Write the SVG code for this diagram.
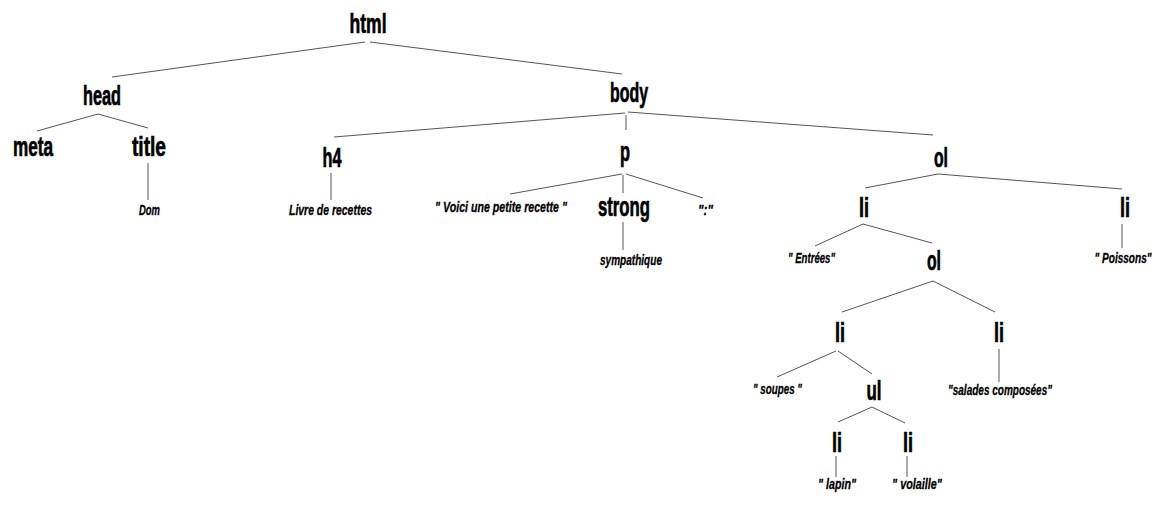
<svg xmlns="http://www.w3.org/2000/svg" width="1172" height="509" viewBox="0 0 1172 509">
<style>
.tag{font-family:"Liberation Sans",Arial,sans-serif;font-weight:bold;font-size:27px;text-anchor:middle;fill:#000;stroke:#000;stroke-width:0.7px}
.lbl{font-family:"Liberation Sans",Arial,sans-serif;font-weight:bold;font-style:italic;font-size:15px;text-anchor:middle;fill:#000;stroke:#000;stroke-width:0.3px}
#connectors line{stroke:#555;stroke-width:1}
</style>
<rect width="1172" height="509" fill="#fff"/>
<g id="connectors">
<line x1="365" y1="42" x2="112" y2="77"/>
<line x1="370" y1="42" x2="622" y2="74"/>
<line x1="98" y1="114" x2="37" y2="131"/>
<line x1="98" y1="114" x2="148" y2="128"/>
<line x1="148" y1="163" x2="148" y2="200"/>
<line x1="625" y1="113" x2="334" y2="137"/>
<line x1="626" y1="115" x2="626" y2="130"/>
<line x1="628" y1="112" x2="933" y2="135"/>
<line x1="331" y1="173" x2="331" y2="200"/>
<line x1="622" y1="174" x2="510" y2="194"/>
<line x1="623" y1="175" x2="623" y2="193"/>
<line x1="626" y1="174" x2="703" y2="198"/>
<line x1="623" y1="222" x2="623" y2="250"/>
<line x1="938" y1="174" x2="865" y2="188"/>
<line x1="938" y1="174" x2="1122" y2="189"/>
<line x1="863" y1="224" x2="815" y2="246"/>
<line x1="863" y1="224" x2="932" y2="243"/>
<line x1="1122" y1="224" x2="1122" y2="248"/>
<line x1="933" y1="281" x2="842" y2="312"/>
<line x1="933" y1="281" x2="995" y2="312"/>
<line x1="836" y1="351" x2="777" y2="377"/>
<line x1="838" y1="351" x2="872" y2="374"/>
<line x1="999" y1="349" x2="999" y2="382"/>
<line x1="872" y1="407" x2="838" y2="422"/>
<line x1="872" y1="407" x2="905" y2="423"/>
<line x1="836" y1="456" x2="836" y2="477"/>
<line x1="907" y1="456" x2="907" y2="477"/>
</g>
<g id="n-html"><text class="tag" x="368" y="33" textLength="37" lengthAdjust="spacingAndGlyphs">html</text></g>
<g id="n-head"><text class="tag" x="102" y="105" textLength="38" lengthAdjust="spacingAndGlyphs">head</text></g>
<g id="n-body"><text class="tag" x="629" y="102" textLength="38" lengthAdjust="spacingAndGlyphs">body</text></g>
<g id="n-meta"><text class="tag" x="33" y="156" textLength="40" lengthAdjust="spacingAndGlyphs">meta</text></g>
<g id="n-title"><text class="tag" x="149" y="156" textLength="34" lengthAdjust="spacingAndGlyphs">title</text></g>
<g id="t-dom"><text class="lbl" x="149.5" y="215" textLength="21" lengthAdjust="spacingAndGlyphs">Dom</text></g>
<g id="n-h4"><text class="tag" x="332" y="167" textLength="19" lengthAdjust="spacingAndGlyphs">h4</text></g>
<g id="t-livre"><text class="lbl" x="330.5" y="215" textLength="83" lengthAdjust="spacingAndGlyphs">Livre de recettes</text></g>
<g id="n-p"><text class="tag" x="625" y="161" textLength="10" lengthAdjust="spacingAndGlyphs">p</text></g>
<g id="t-voici"><text class="lbl" x="501" y="212" textLength="132" lengthAdjust="spacingAndGlyphs">" Voici une petite recette "</text></g>
<g id="n-strong"><text class="tag" x="624" y="215.5" textLength="52" lengthAdjust="spacingAndGlyphs">strong</text></g>
<g id="t-sympathique"><text class="lbl" x="631" y="265" textLength="62" lengthAdjust="spacingAndGlyphs">sympathique</text></g>
<g id="t-colon"><text class="lbl" x="705.5" y="215" textLength="15" lengthAdjust="spacingAndGlyphs">":"</text></g>
<g id="n-ol1"><text class="tag" x="941" y="167" textLength="14" lengthAdjust="spacingAndGlyphs">ol</text></g>
<g id="n-li1"><text class="tag" x="864" y="217" textLength="10" lengthAdjust="spacingAndGlyphs">li</text></g>
<g id="n-li2"><text class="tag" x="1125" y="217" textLength="10" lengthAdjust="spacingAndGlyphs">li</text></g>
<g id="t-entrees"><text class="lbl" x="811.5" y="263" textLength="47" lengthAdjust="spacingAndGlyphs">" Entrées"</text></g>
<g id="t-poissons"><text class="lbl" x="1123" y="263" textLength="57" lengthAdjust="spacingAndGlyphs">" Poissons"</text></g>
<g id="n-ol2"><text class="tag" x="934" y="270" textLength="14" lengthAdjust="spacingAndGlyphs">ol</text></g>
<g id="n-li3"><text class="tag" x="840" y="342" textLength="10" lengthAdjust="spacingAndGlyphs">li</text></g>
<g id="n-li4"><text class="tag" x="999" y="342" textLength="10" lengthAdjust="spacingAndGlyphs">li</text></g>
<g id="t-soupes"><text class="lbl" x="777.5" y="394" textLength="49" lengthAdjust="spacingAndGlyphs">" soupes "</text></g>
<g id="n-ul"><text class="tag" x="874" y="400" textLength="15" lengthAdjust="spacingAndGlyphs">ul</text></g>
<g id="t-salades"><text class="lbl" x="1000" y="395" textLength="104" lengthAdjust="spacingAndGlyphs">"salades composées"</text></g>
<g id="n-li5"><text class="tag" x="837" y="452" textLength="10" lengthAdjust="spacingAndGlyphs">li</text></g>
<g id="n-li6"><text class="tag" x="908" y="452" textLength="10" lengthAdjust="spacingAndGlyphs">li</text></g>
<g id="t-lapin"><text class="lbl" x="837" y="489" textLength="38" lengthAdjust="spacingAndGlyphs">" lapin"</text></g>
<g id="t-volaille"><text class="lbl" x="917" y="489" textLength="50" lengthAdjust="spacingAndGlyphs">" volaille"</text></g>
</svg>
